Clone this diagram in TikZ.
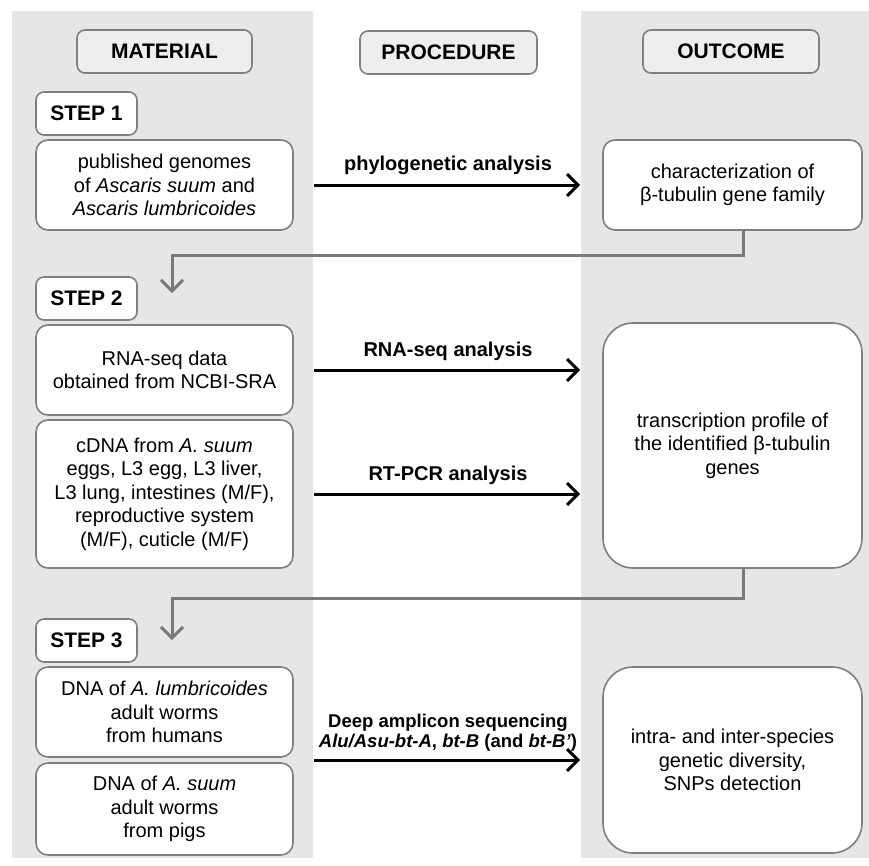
\documentclass[tikz,border=0pt]{standalone}
\usepackage{fontspec}
\setmainfont{Liberation Sans}
\usetikzlibrary{arrows.meta,calc}
\definecolor{colbg}{HTML}{E6E6E6}
\definecolor{hdrfill}{HTML}{EEEEEE}
\definecolor{bordergray}{HTML}{7F7F7F}
\definecolor{linkgray}{HTML}{7A7A7A}
\begin{document}
\begin{tikzpicture}[x=1pt,y=-1pt,
  box/.style={draw=bordergray, line width=1.6pt, rounded corners=12pt, fill=white,
    align=center, inner sep=0pt, font=\fontsize{20}{23.5}\selectfont,
    minimum width=257pt},
  hdr/.style={draw=bordergray, line width=1.6pt, rounded corners=8pt, fill=hdrfill,
    inner sep=0pt, font=\fontsize{21}{24}\selectfont\bfseries, minimum height=43pt},
  stepbox/.style={draw=bordergray, line width=1.6pt, rounded corners=8pt, fill=white,
    inner sep=0pt, font=\fontsize{21}{24}\selectfont\bfseries, minimum width=101pt, minimum height=43pt},
  outbox/.style={box, minimum width=259pt},
  arr/.style={line width=3pt, -{Straight Barb[length=11pt,width=22pt,line width=3pt]},
    shorten <=20pt, shorten >=22pt},
  lbl/.style={font=\fontsize{20}{22}\selectfont\bfseries, align=center},
  link/.style={draw=linkgray, line width=3pt, -{Straight Barb[length=11pt,width=22pt,line width=3pt]}}
]
\useasboundingbox (0,0) rectangle (869,865);
% columns
\fill[colbg] (12,11) rectangle (313,858);
\fill[colbg] (581,11) rectangle (869,858);

% headers
\node[hdr, minimum width=175pt] (hmat) at (164.5,51.5) {MATERIAL};
\node[hdr, minimum width=177pt] (hproc) at (448.5,52.5) {PROCEDURE};
\node[hdr, minimum width=176pt] (hout) at (731,51.5) {OUTCOME};

% step 1
\node[stepbox] (s1) at (86.5,113.5) {STEP 1};
\node[box, minimum height=90pt] (gen) at (164.5,185) {published genomes\\of \textit{Ascaris suum} and\\\textit{Ascaris lumbricoides}};
\node[outbox, minimum height=90pt] (out1) at (732.5,185) {characterization of\\β-tubulin gene family};
\draw[arr] (gen.east) -- (out1.west) node[midway, above=5pt, lbl] (lphy) {phylogenetic analysis};

% step 2
\node[stepbox] (s2) at (86.5,298.5) {STEP 2};
\node[box, minimum height=90pt] (rna) at (164.5,370) {RNA-seq data\\obtained from NCBI-SRA};
\node[box, minimum height=148pt] (cdna) at (164.5,494) {cDNA from \textit{A. suum}\\eggs, L3 egg, L3 liver,\\L3 lung, intestines (M/F),\\reproductive system\\(M/F), cuticle (M/F)};
\node[outbox, minimum height=245pt, rounded corners=30pt] (out2) at (732.5,445.5) {transcription profile of\\the identified β-tubulin\\genes};
\draw[arr] (rna.east) -- (rna.east -| out2.west) node[midway, above=5pt, lbl] (lrna) {RNA-seq analysis};
\draw[arr] (cdna.east) -- (cdna.east -| out2.west) node[midway, above=5pt, lbl] (lrt) {RT-PCR analysis};

% step 3
\node[stepbox] (s3) at (86.5,640.5) {STEP 3};
\node[box, minimum height=90pt] (dlum) at (164.5,712) {DNA of \textit{A. lumbricoides}\\adult worms\\from humans};
\node[box, minimum height=92pt] (dsuum) at (164.5,809) {DNA of \textit{A. suum}\\adult worms\\from pigs};
\node[outbox, minimum height=186pt, rounded corners=30pt] (out3) at (732.5,760) {intra- and inter-species\\genetic diversity,\\SNPs detection};
\coordinate (mid3) at ($(dlum.south east)!0.5!(dsuum.north east)$);
\draw[arr] (mid3) -- (mid3 -| out3.west) node[midway, above=4pt, font=\fontsize{18.5}{20}\selectfont\bfseries, align=center] (ldeep) {Deep amplicon sequencing\\\textit{Alu/Asu-bt-A}, \textit{bt-B} (and \textit{bt-B’})};

% connectors between steps
\coordinate (tip1) at (172,293);
\coordinate (tip2) at (172,640);
\draw[link] ([xshift=11pt]out1.south) |- ($(tip1)+(0,-38)$) -- (tip1);
\draw[link] ([xshift=11pt]out2.south) |- ($(tip2)+(0,-42)$) -- (tip2);
\end{tikzpicture}
\end{document}
